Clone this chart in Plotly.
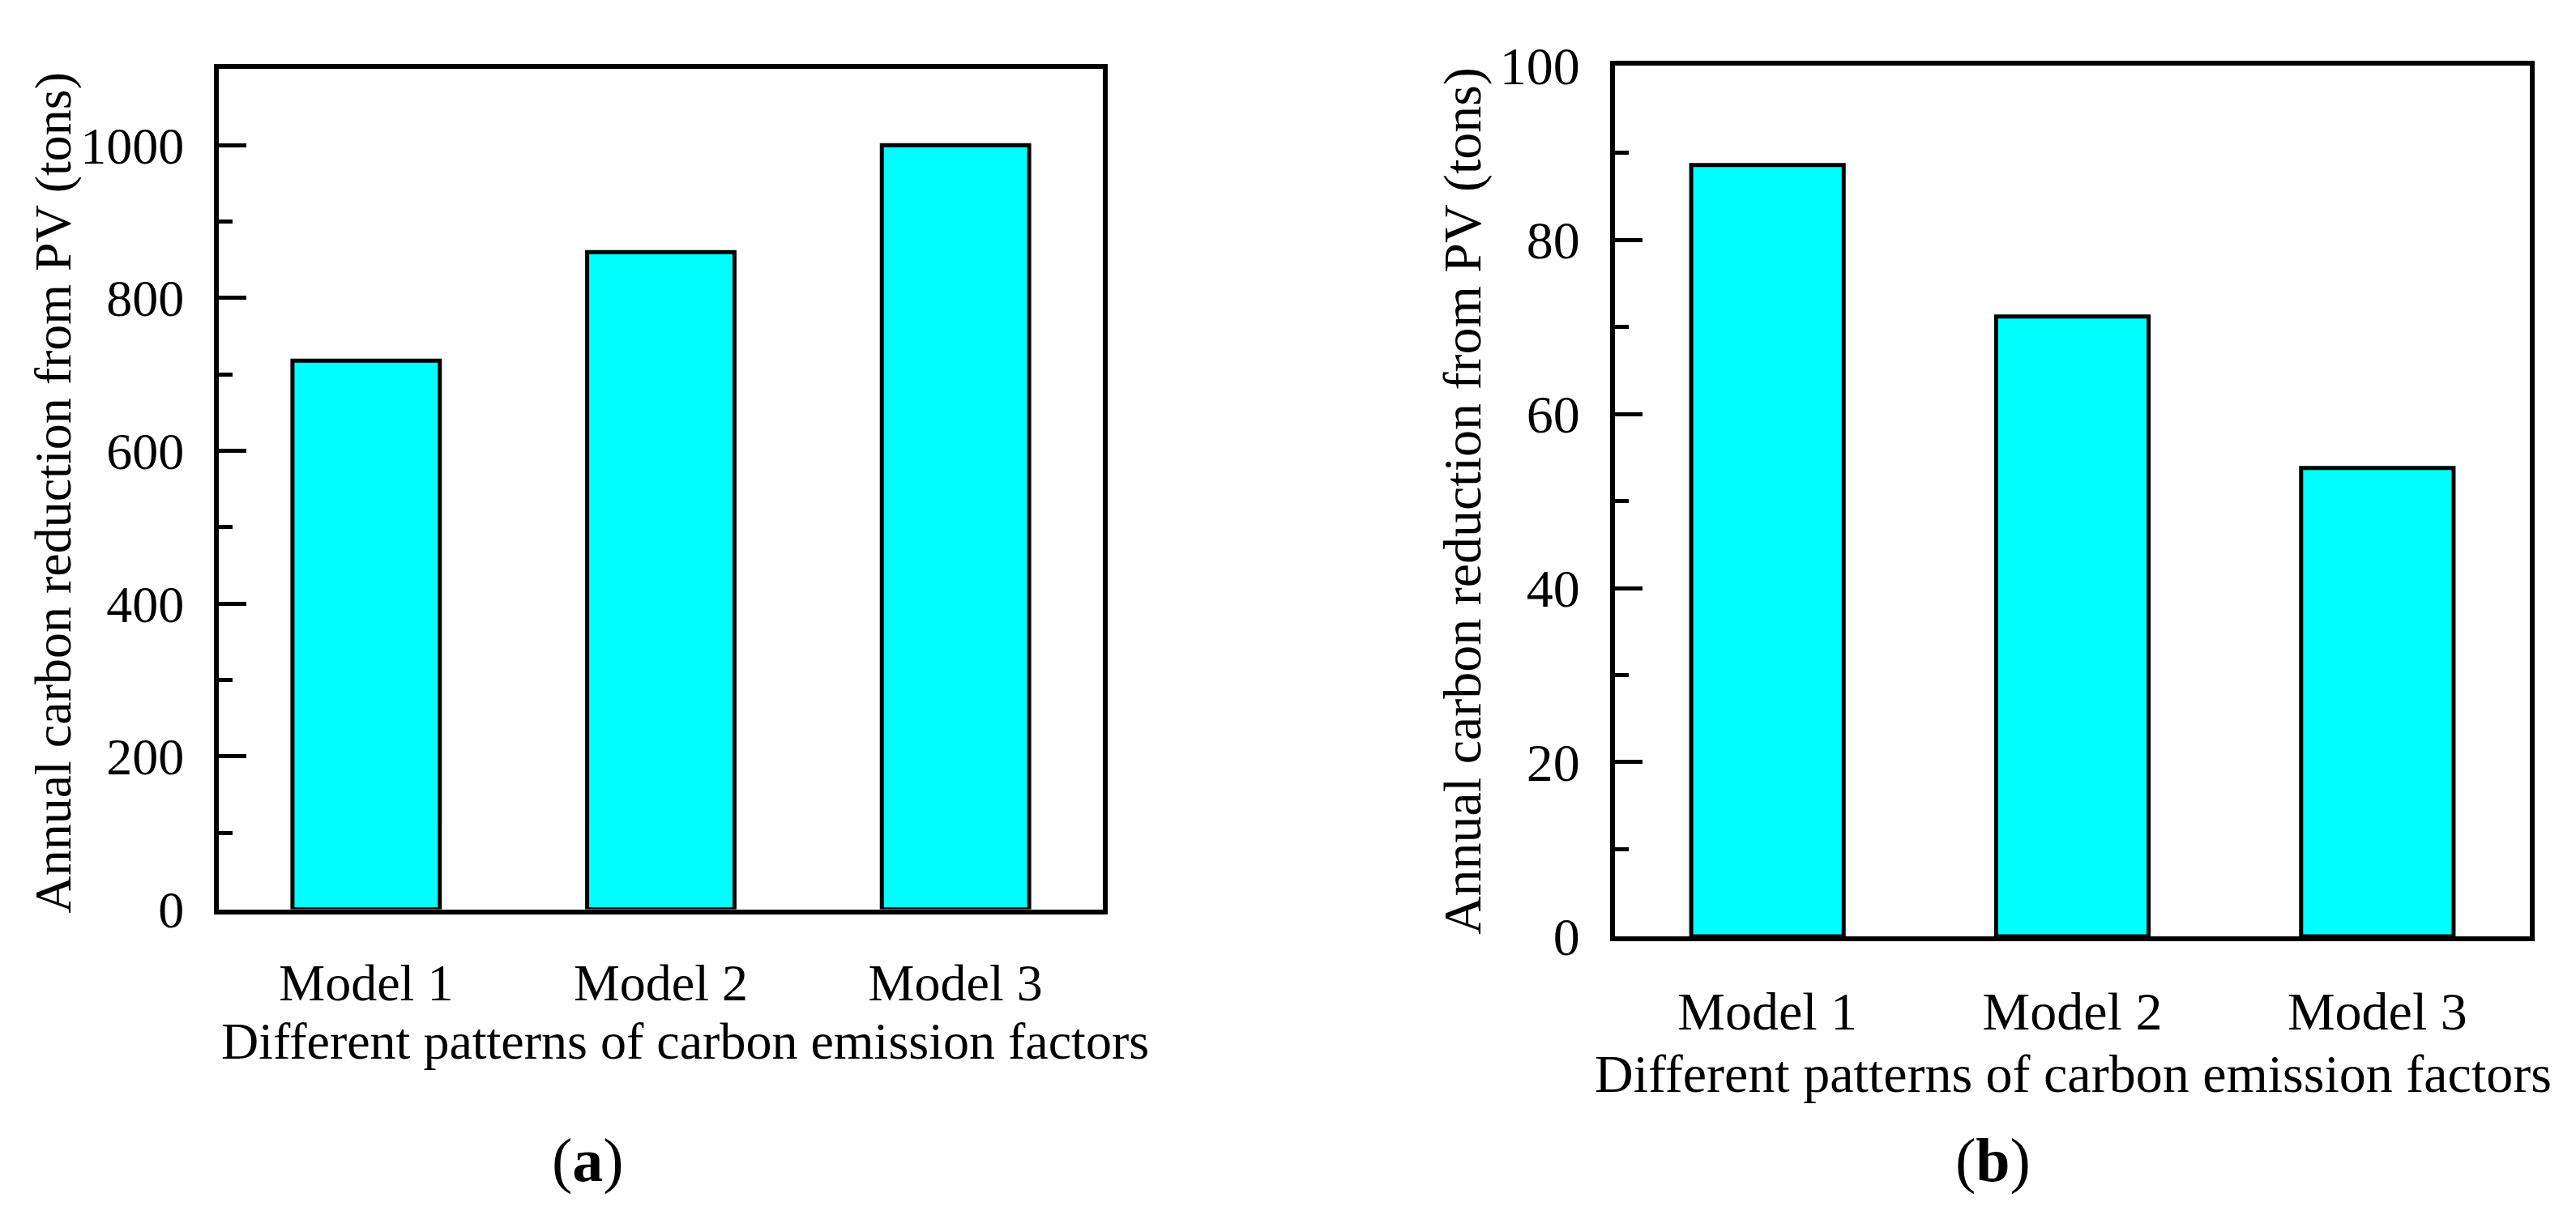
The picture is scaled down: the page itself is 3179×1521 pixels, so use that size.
import plotly.graph_objects as go

W, H = 3179, 1521

categories = ["Model 1", "Model 2", "Model 3"]
values_a = [718, 860, 1000]
values_b = [88.6, 71.2, 53.8]
y_title = "Annual carbon reduction from PV (tons)"
x_title = "Different patterns of carbon emission factors"
panel_labels = ["(<b>a</b>)", "(<b>b</b>)"]

FONT = "Liberation Serif"
CYAN = "#00FFFF"

def px_x(x):
    return x / W

def px_y(y):
    return 1 - y / H

fig = go.Figure()
fig.add_trace(go.Bar(x=categories, y=values_a, width=0.5, xaxis="x", yaxis="y",
                     marker=dict(color=CYAN, line=dict(color="black", width=5)),
                     showlegend=False))
fig.add_trace(go.Bar(x=categories, y=values_b, width=0.5, xaxis="x2", yaxis="y2",
                     marker=dict(color=CYAN, line=dict(color="black", width=5)),
                     showlegend=False))

def xaxis(domain, size, anchor):
    return dict(domain=domain, anchor=anchor, showline=True, mirror=True, linewidth=6,
                linecolor="black", ticks="", showgrid=False, zeroline=False,
                tickfont=dict(family=FONT, size=size, color="black"),
                ticklabelstandoff=30, range=[-0.5, 2.5], fixedrange=True)

def yaxis(domain, rng, dtick, minor, size, anchor):
    return dict(domain=domain, anchor=anchor, showline=True, mirror=True, linewidth=6,
                linecolor="black", ticks="inside", ticklen=34, tickwidth=5,
                tickcolor="black", dtick=dtick, tick0=0, range=rng,
                minor=dict(ticks="inside", ticklen=17, tickwidth=5, dtick=minor,
                           tickcolor="black", showgrid=False),
                showgrid=False, zeroline=False,
                tickfont=dict(family=FONT, size=size, color="black"),
                ticklabelstandoff=24, fixedrange=True)

xa = xaxis([px_x(262), px_x(1353)], 64, "y")
xb = xaxis([px_x(1985), px_x(3114)], 66, "y2")
ya = yaxis([px_y(1133), px_y(43)], [0, 1100], 200, 100, 64, "x")
yb = yaxis([px_y(1168), px_y(39)], [0, 100], 20, 10, 66, "x2")

annotations = [
    dict(text=x_title, x=px_x(837), y=px_y(1304), font=dict(family=FONT, size=64, color="black")),
    dict(text=x_title, x=px_x(2550), y=px_y(1346), font=dict(family=FONT, size=66, color="black")),
    dict(text=y_title, x=px_x(58), y=px_y(593), textangle=-90, font=dict(family=FONT, size=64, color="black")),
    dict(text=y_title, x=px_x(1797), y=px_y(603), textangle=-90, font=dict(family=FONT, size=66, color="black")),
    dict(text=panel_labels[0], x=px_x(717), y=px_y(1458), font=dict(family=FONT, size=76, color="black")),
    dict(text=panel_labels[1], x=px_x(2451), y=px_y(1458), font=dict(family=FONT, size=76, color="black")),
]
for a in annotations:
    a.update(xref="paper", yref="paper", showarrow=False, xanchor="center", yanchor="middle")

fig.update_layout(
    width=W, height=H, margin=dict(l=0, r=0, t=0, b=0),
    paper_bgcolor="white", plot_bgcolor="white",
    xaxis=xa, yaxis=ya, xaxis2=xb, yaxis2=yb,
    annotations=annotations, bargap=0.5,
)

fig.write_html("out.html")
